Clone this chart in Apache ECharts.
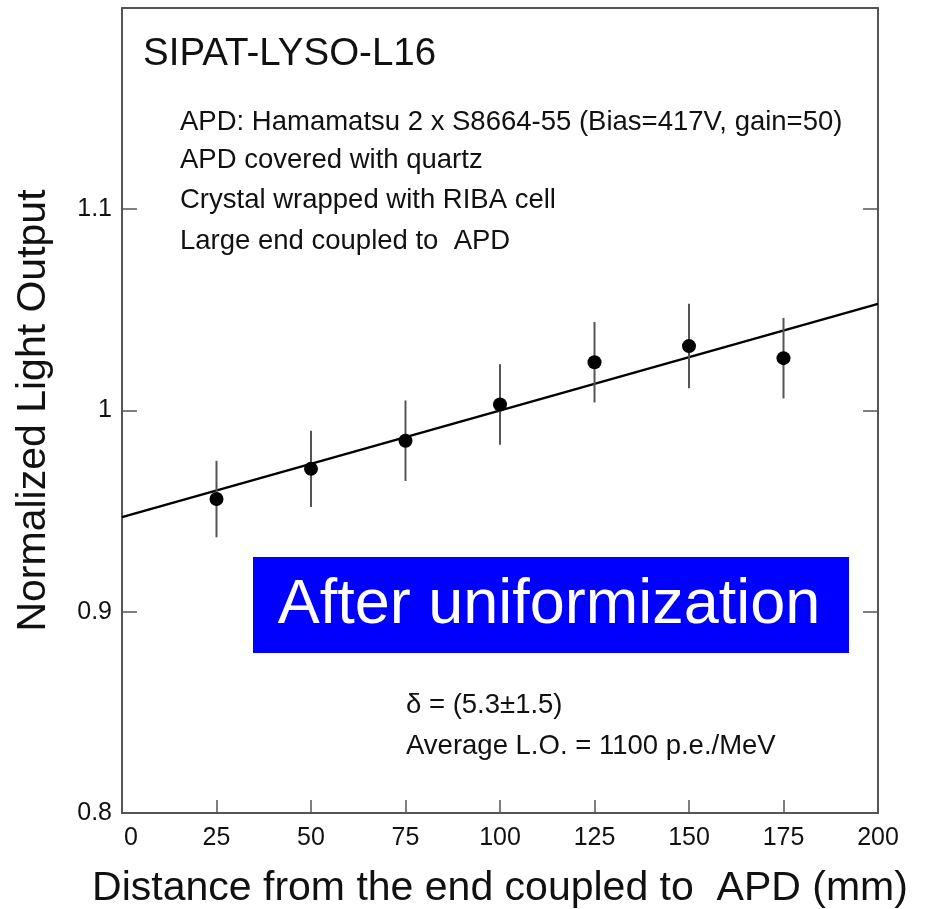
<!DOCTYPE html>
<html>
<head>
<meta charset="utf-8">
<script src="https://cdn.jsdelivr.net/npm/echarts@6/dist/echarts.min.js"></script>
<style>html,body{margin:0;padding:0;background:#fff}#c{width:926px;height:909px}</style>
</head>
<body>
<div id="c"></div>
<script>
// Data
const distances = [25, 50, 75, 100, 125, 150, 175];
const lightOutput = [0.956, 0.971, 0.985, 1.003, 1.024, 1.032, 1.026];
const errors = [0.019, 0.019, 0.02, 0.02, 0.02, 0.021, 0.02];
const fitX = [0, 200];
const fitY = [0.947, 1.053];
const xTicks = [0, 25, 50, 75, 100, 125, 150, 175, 200];
const yTicks = [0.8, 0.9, 1.0, 1.1];

const FONT = 'Liberation Sans, Arial, Helvetica, sans-serif';
const chart = echarts.init(document.getElementById('c'), null, {renderer: 'canvas'});

const points = distances.map((d, i) => [d, lightOutput[i], errors[i]]);
const fit = fitX.map((x, i) => [x, fitY[i]]);

const frameColor = '#555';
const option = {
  animation: false,
  backgroundColor: '#fff',
  grid: {left: 122, right: 48, top: 8, bottom: 96, containLabel: false, outerBoundsMode: 'none'},
  xAxis: [{
    type: 'value', min: 0, max: 200, interval: 25,
    name: 'Distance from the end coupled to  APD (mm)',
    nameLocation: 'middle', nameGap: 55,
    nameTextStyle: {fontFamily: FONT, fontSize: 41, color: '#111'},
    axisLine: {show: true, onZero: false, lineStyle: {color: frameColor, width: 2}},
    axisTick: {show: true, inside: true, length: 13, lineStyle: {color: frameColor, width: 1.5}},
    axisLabel: {
      fontFamily: FONT, fontSize: 25, color: '#111', margin: 13,
      formatter: v => (xTicks.indexOf(v) < 0 ? '' : (v === 0 ? '{z|0}' : String(v))),
      rich: {z: {fontFamily: FONT, fontSize: 25, color: '#111', padding: [0, 0, 0, 18]}}
    },
    splitLine: {show: false}
  }, {
    type: 'value', min: 0, max: 200, position: 'top',
    axisLine: {show: true, onZero: false, lineStyle: {color: frameColor, width: 2}},
    axisTick: {show: false}, axisLabel: {show: false}, splitLine: {show: false}
  }],
  yAxis: [{
    type: 'value', min: 0.8, max: 1.2, interval: 0.1,
    name: 'Normalized Light Output',
    nameLocation: 'middle', nameGap: 68,
    nameTextStyle: {fontFamily: FONT, fontSize: 41, color: '#111'},
    axisLine: {show: true, onZero: false, lineStyle: {color: frameColor, width: 2}},
    axisTick: {show: true, inside: true, length: 15, lineStyle: {color: frameColor, width: 1.5}},
    axisLabel: {
      fontFamily: FONT, fontSize: 25, color: '#111', margin: 10,
      formatter: v => {
        const t = yTicks.find(k => Math.abs(k - v) < 1e-6);
        return t === undefined ? '' : String(Math.round(t * 10) / 10);
      }
    },
    splitLine: {show: false}
  }, {
    type: 'value', min: 0.8, max: 1.2, interval: 0.1, position: 'right',
    axisLine: {show: true, onZero: false, lineStyle: {color: frameColor, width: 2}},
    axisTick: {show: true, inside: true, length: 15, lineStyle: {color: frameColor, width: 1.5}},
    axisLabel: {show: false}, splitLine: {show: false}
  }],
  series: [{
    type: 'line', data: fit, showSymbol: false, symbol: 'none',
    lineStyle: {color: '#000', width: 2.5}, z: 2
  }, {
    type: 'custom', data: points, z: 3,
    renderItem: (params, api) => {
      const x = api.value(0), y = api.value(1), e = api.value(2);
      const p1 = api.coord([x, y + e]);
      const p2 = api.coord([x, y - e]);
      return {type: 'line', shape: {x1: p1[0], y1: p1[1], x2: p2[0], y2: p2[1]},
        style: {stroke: '#555', lineWidth: 2}};
    }
  }, {
    type: 'scatter', data: points.map(p => [p[0], p[1]]), symbol: 'circle', symbolSize: 14,
    itemStyle: {color: '#000', opacity: 1}, z: 4
  }],
  graphic: [
    {type: 'text', left: 143, top: 35, style: {text: 'SIPAT-LYSO-L16', font: '38.5px ' + FONT, fill: '#111'}},
    {type: 'text', left: 180, top: 108, style: {text: 'APD: Hamamatsu 2 x S8664-55 (Bias=417V, gain=50)', font: '27.5px ' + FONT, fill: '#111'}},
    {type: 'text', left: 180, top: 146, style: {text: 'APD covered with quartz', font: '27.5px ' + FONT, fill: '#111'}},
    {type: 'text', left: 180, top: 186, style: {text: 'Crystal wrapped with RIBA cell', font: '27.5px ' + FONT, fill: '#111'}},
    {type: 'text', left: 180, top: 227, style: {text: 'Large end coupled to  APD', font: '27.5px ' + FONT, fill: '#111'}},
    {type: 'rect', shape: {x: 253, y: 557, width: 596, height: 96}, style: {fill: '#0000ff'}, z: 10},
    {type: 'text', z: 11, x: 549, y: 606, style: {text: 'After uniformization', font: '63px ' + FONT, fill: '#fff', textAlign: 'center', textVerticalAlign: 'middle'}},
    {type: 'text', left: 406, top: 691, style: {text: 'δ = (5.3±1.5)', font: '27.5px ' + FONT, fill: '#111'}},
    {type: 'text', left: 406, top: 732, style: {text: 'Average L.O. = 1100 p.e./MeV', font: '27.5px ' + FONT, fill: '#111'}}
  ]
};
chart.setOption(option);
</script>
</body>
</html>
